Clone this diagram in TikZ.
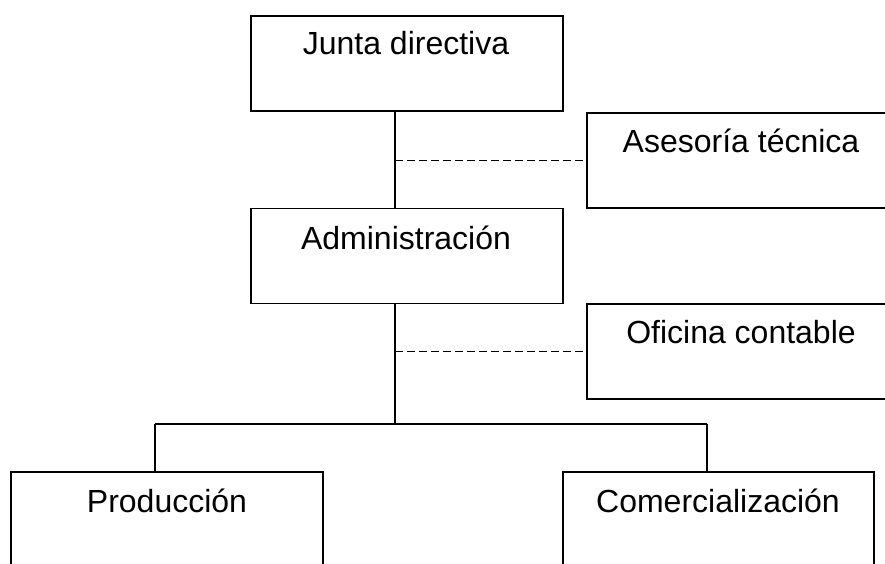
\documentclass[tikz,border=0pt]{standalone}
\usepackage{fontspec}
\setmainfont{Liberation Sans}
\begin{document}
\begin{tikzpicture}[x=1pt,y=-1pt,
  box/.style={draw, line width=1.4pt, rectangle, inner sep=0pt, minimum height=95pt},
  lbl/.style={anchor=base, inner sep=0pt, font=\fontsize{32}{38}\selectfont},
  conn/.style={line width=1.4pt},
  dconn/.style={line width=1.1pt, dash pattern=on 8pt off 4pt}]
\useasboundingbox (0,0) rectangle (885,564);
\clip (0,0) rectangle (885,564);
\node[box, minimum width=312pt] (junta) at (407,63.5) {};
\node[lbl] (tjunta) at (406,55) {Junta directiva};
\node[box, minimum width=308pt] (ases) at (741,160.5) {};
\node[lbl] (tases) at (741,153) {Asesoría técnica};
\node[box, minimum width=312pt] (admin) at (407,256) {};
\node[lbl] (tadmin) at (406,249) {Administración};
\node[box, minimum width=308pt] (ofic) at (741,351.5) {};
\node[lbl] (tofic) at (741,343) {Oficina contable};
\node[box, minimum width=312pt] (prod) at (167,519.5) {};
\node[lbl] (tprod) at (167,512) {Producción};
\node[box, minimum width=311pt] (com) at (718.5,519.5) {};
\node[lbl] (tcom) at (718,512) {Comercialización};
\coordinate (spine) at (395,0);
\coordinate (bus) at (395,424);
\coordinate (bl) at (155,424);
\coordinate (br) at (707,424);
\draw[conn] (junta.south -| spine) -- (admin.north -| spine);
\draw[conn] (admin.south -| spine) -- (bus);
\draw[conn] (bl) -- (br);
\draw[conn] (bl) -- (bl |- prod.north);
\draw[conn] (br) -- (br |- com.north);
\draw[dconn] (spine |- ases.west) -- (ases.west);
\draw[dconn] (spine |- ofic.west) -- (ofic.west);
\end{tikzpicture}
\end{document}
